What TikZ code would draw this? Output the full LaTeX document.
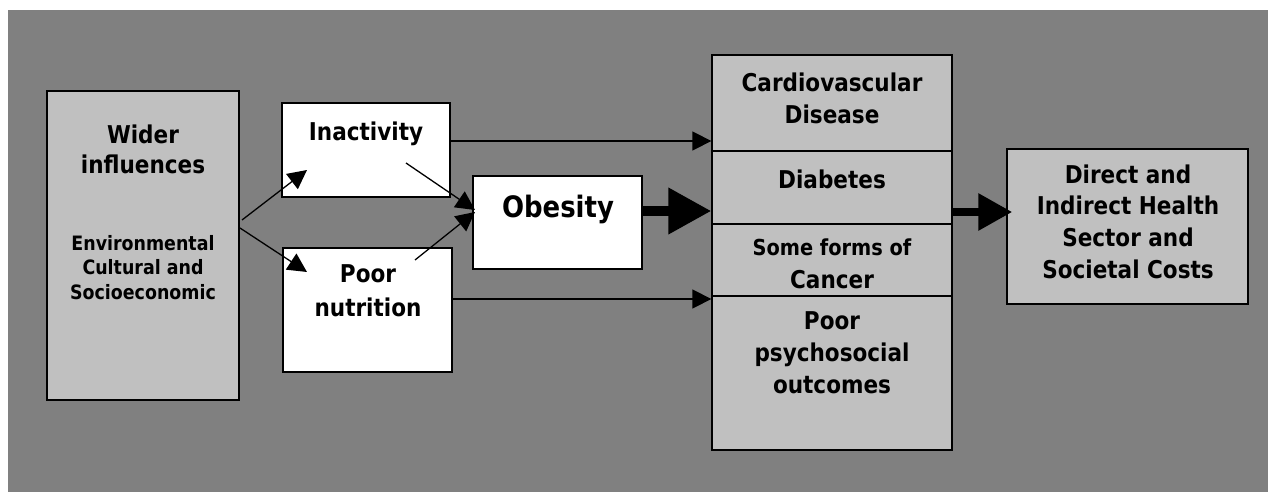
\documentclass[tikz,border=0pt]{standalone}
\usepackage{fontspec}
\setmainfont{DejaVu Sans}[FakeStretch=0.88]
\usetikzlibrary{arrows.meta}
\definecolor{bggray}{HTML}{808080}
\definecolor{boxgray}{HTML}{C0C0C0}
\newcommand{\hs}[1]{\rule{0pt}{#1pt}}
\tikzset{
  box/.style={draw=black, line width=1.3pt, inner sep=0pt},
  graybox/.style={box, fill=boxgray},
  whitebox/.style={box, fill=white},
  txt/.style={anchor=north, inner sep=0pt, align=center, font=\bfseries\fontsize{24.5}{31.5}\selectfont},
  thinarrow/.style={line width=1.3pt, -{Triangle[length=19pt,width=19pt]}},
  fatarrow/.style={line width=10pt, -{Triangle[length=43pt,width=44pt]}},
  fatarrowb/.style={line width=8.5pt, -{Triangle[length=34pt,width=35pt]}}
}
\begin{document}
\begin{tikzpicture}[x=1pt,y=-1pt]
\useasboundingbox (0,0) rectangle (1268,492);
\fill[bggray] (8,10) rectangle (1268,492);

% boxes
\node[graybox, minimum width=192pt, minimum height=309pt] (wider) at (143,245.5) {};
\node[whitebox, minimum width=168pt, minimum height=94pt] (inact) at (366,150) {};
\node[whitebox, minimum width=169pt, minimum height=124pt] (poor) at (367.5,310) {};
\node[whitebox, minimum width=169pt, minimum height=93pt] (obes) at (557.5,222.5) {};
\node[graybox, minimum width=240pt, minimum height=96pt] (cvd) at (832,103) {};
\node[graybox, minimum width=240pt, minimum height=73pt] (diab) at (832,187.5) {};
\node[graybox, minimum width=240pt, minimum height=72pt] (canc) at (832,260) {};
\node[graybox, minimum width=240pt, minimum height=154pt] (psych) at (832,373) {};
\node[graybox, minimum width=241pt, minimum height=155pt] (direct) at (1127.5,226.5) {};

% texts
\node[txt, font=\bfseries\fontsize{24.5}{30}\selectfont] (widerT) at (143,123) {\hs{20}Wider\\influences};
\node[txt, font=\bfseries\fontsize{19.8}{24.5}\selectfont] (envT) at (143,233) {\hs{17}Environmental\\Cultural and\\Socioeconomic};
\node[txt] (inactT) at (366,120) {\hs{20}Inactivity};
\node[txt, font=\bfseries\fontsize{24.5}{34}\selectfont] (poorT) at (368,262) {\hs{20}Poor\\nutrition};
\node[txt, font=\bfseries\fontsize{29.5}{36}\selectfont] (obesT) at (558,192) {\hs{25}Obesity};
\node[txt, font=\bfseries\fontsize{24.5}{32}\selectfont] (cvdT) at (832,71) {\hs{20}Cardiovascular\\Disease};
\node[txt] (diabT) at (832,168) {\hs{20}Diabetes};
\node[txt, font=\bfseries\fontsize{24.5}{33}\selectfont] (cancT) at (832,236) {\hs{19}{\fontsize{22}{33}\selectfont Some forms of}\\Cancer};
\node[txt, font=\bfseries\fontsize{24.5}{32}\selectfont] (psychT) at (832,309) {\hs{20}Poor\\psychosocial\\outcomes};
\node[txt, font=\bfseries\fontsize{24.5}{31.7}\selectfont] (directT) at (1128,163) {\hs{20}Direct and\\Indirect Health\\Sector and\\Societal Costs};

% connector end points
\coordinate (w1) at (242,220);
\coordinate (i1) at (307,170);
\coordinate (w2) at (240,228);
\coordinate (p1) at (307,272);
\coordinate (i2) at (406,163);
\coordinate (o1) at (475,210);
\coordinate (p2) at (415,260);
\coordinate (o2) at (475,212);

\draw[thinarrow] (w1) -- (i1);
\draw[thinarrow] (w2) -- (p1);
\draw[thinarrow] (i2) -- (o1);
\draw[thinarrow] (p2) -- (o2);
\draw[thinarrow] ([yshift=9pt]inact.east) coordinate (ia) -- (ia -| cvd.west);
\draw[thinarrow] ([yshift=11pt]poor.east) coordinate (pa) -- (pa -| psych.west);
\draw[fatarrow] ([yshift=11.5pt]obes.east) coordinate (oa) -- (oa -| diab.west);
\draw[fatarrowb, shorten >=-6pt] ([yshift=-24.5pt]diab.east) coordinate (da) -- (da -| direct.west);
\end{tikzpicture}
\end{document}
